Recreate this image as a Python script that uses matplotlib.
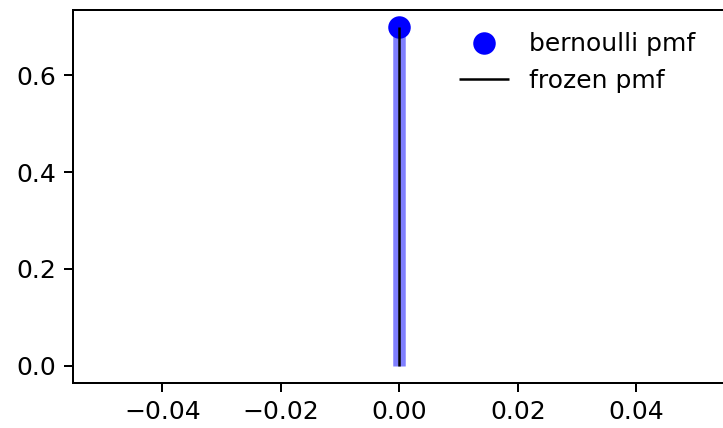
import numpy as np
import matplotlib
matplotlib.use('Agg')
import matplotlib.pyplot as plt

# bernoulli p=0.3, support point from ppf(0.01) to ppf(0.99)
x = np.array([0])
pmf = np.array([0.7])

fig, ax = plt.subplots(1, 1, figsize=(723 / 180, 428 / 180), dpi=180)
fig.subplots_adjust(left=0.1015, right=1.003, top=0.977, bottom=0.106)

ax.plot(x, pmf, 'bo', ms=8, label='bernoulli pmf')
ax.vlines(x, 0, pmf, colors='b', lw=5, alpha=0.5)
ax.vlines(x, 0, pmf, colors='k', linestyles='-', lw=1, label='frozen pmf')
ax.legend(loc='upper right', bbox_to_anchor=(0.989, 1), frameon=False)

fig.savefig('out.png', dpi=180)
